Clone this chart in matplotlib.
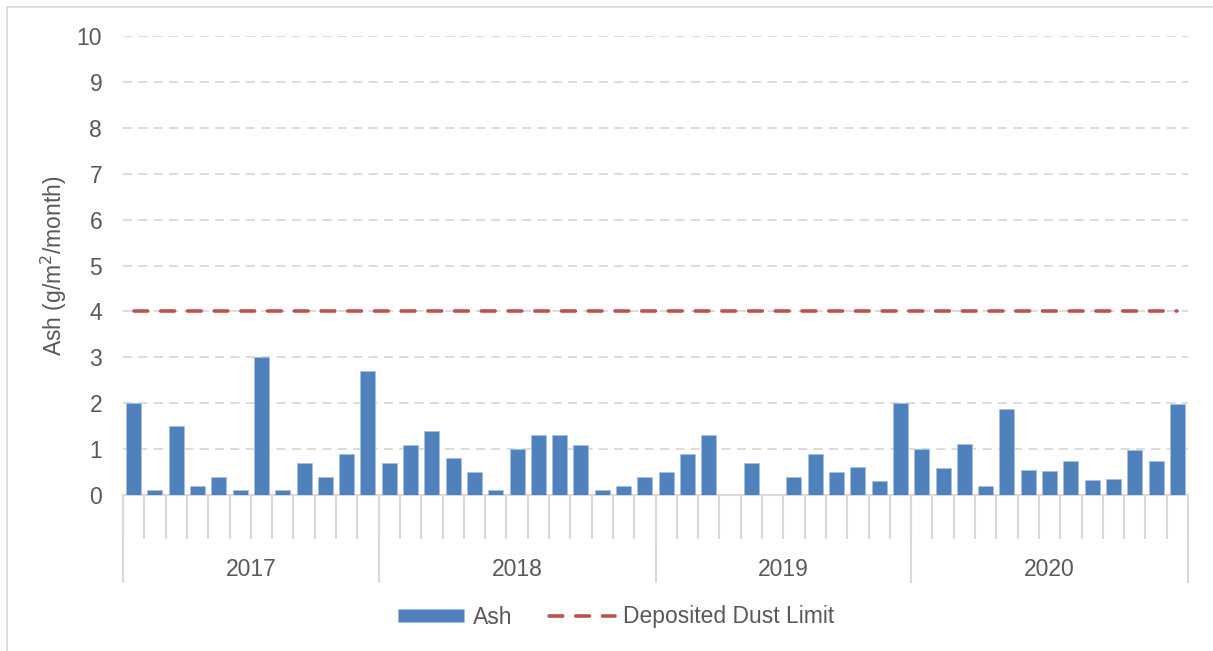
import matplotlib.pyplot as plt
from matplotlib.patches import Rectangle
import matplotlib.transforms as mtransforms

plt.rcParams['font.family'] = ['Liberation Sans', 'DejaVu Sans']

# Monthly ash deposition, grouped by year (Excel multi-level axis)
years = ['2017', '2018', '2019', '2020']
ash_2017 = [2.0, 0.1, 1.5, 0.2, 0.4, 0.1, 3.0, 0.1, 0.7, 0.4, 0.9, 2.7]
ash_2018 = [0.7, 1.1, 1.4, 0.8, 0.5, 0.1, 1.0, 1.3, 1.3, 1.1, 0.1, 0.2, 0.4]
ash_2019 = [0.5, 0.9, 1.3, 0.0, 0.7, 0.0, 0.4, 0.9, 0.5, 0.6, 0.3, 2.0]
ash_2020 = [1.01, 0.59, 1.12, 0.2, 1.88, 0.54, 0.53, 0.75, 0.33, 0.34, 0.99, 0.74, 1.98]
dust_limit = 4

groups = [ash_2017, ash_2018, ash_2019, ash_2020]
ash = [v for g in groups for v in g]
n = len(ash)
x = list(range(n))
limit = [dust_limit] * n

grey_text = '#595959'
grid_col = '#d9d9d9'
fs = 16.5

fig = plt.figure(figsize=(12.13, 6.51), dpi=100)
ax = fig.add_axes([123 / 1213, 1 - 495 / 651, (1188 - 123) / 1213, (495 - 36) / 651])

ax.bar(x, ash, width=0.7, color='#4f81bd', edgecolor='#a9c1e0', linewidth=0.6,
       label='Ash', zorder=3)
ax.plot(x, limit, color='#c0504d', linewidth=2.6, dashes=(3.8, 3.6),
        dash_capstyle='round', label='Deposited Dust Limit', zorder=4)

ax.set_xlim(-0.5, n - 0.5)
ax.set_ylim(0, 10)
ax.set_yticks(range(0, 11))
ax.yaxis.grid(True, color=grid_col, linestyle=(0, (5, 3.5)), linewidth=1.3)
ax.set_axisbelow(True)
ax.tick_params(axis='y', length=0, pad=15, labelsize=fs, labelcolor=grey_text)
ax.set_xticks([])

for s in ['left', 'right', 'top']:
    ax.spines[s].set_visible(False)
ax.spines['bottom'].set_color(grid_col)
ax.spines['bottom'].set_linewidth(1.5)

ax.set_ylabel('Ash (g/m$^2$/month)', fontsize=fs, color=grey_text)
ax.yaxis.set_label_coords(-0.051, 0.5)

# Category tick marks and year separators below the axis
trans = mtransforms.blended_transform_factory(ax.transData, ax.transAxes)
edges = [i - 0.5 for i in range(n + 1)]
ax.vlines(edges, -0.096, 0, transform=trans, color=grid_col, linewidth=1.5,
          clip_on=False)
start = 0
bounds = [-0.5]
for yr, g in zip(years, groups):
    end = start + len(g)
    bounds.append(end - 0.5)
    ax.text((start + end - 1) / 2, -0.163, yr, transform=trans, ha='center',
            va='center', fontsize=fs, color=grey_text)
    start = end
ax.vlines(bounds, -0.192, 0, transform=trans, color=grid_col, linewidth=1.5,
          clip_on=False)

handles, labels = ax.get_legend_handles_labels()
order = [labels.index('Ash'), labels.index('Deposited Dust Limit')]
fig.legend([handles[i] for i in order], [labels[i] for i in order],
           loc='center', bbox_to_anchor=(0.508, 1 - 617 / 651), ncol=2,
           frameon=False, fontsize=fs, handlelength=2.9, handleheight=0.5,
           columnspacing=1.6, labelcolor=grey_text, handletextpad=0.35)

# Outer chart border
fig.patches.append(Rectangle((7 / 1213, -0.1), 1.2, 1.1 - 7 / 651,
                             transform=fig.transFigure, fill=False,
                             edgecolor=grid_col, linewidth=1.2))

fig.savefig('out.png', dpi=100, facecolor='white')
